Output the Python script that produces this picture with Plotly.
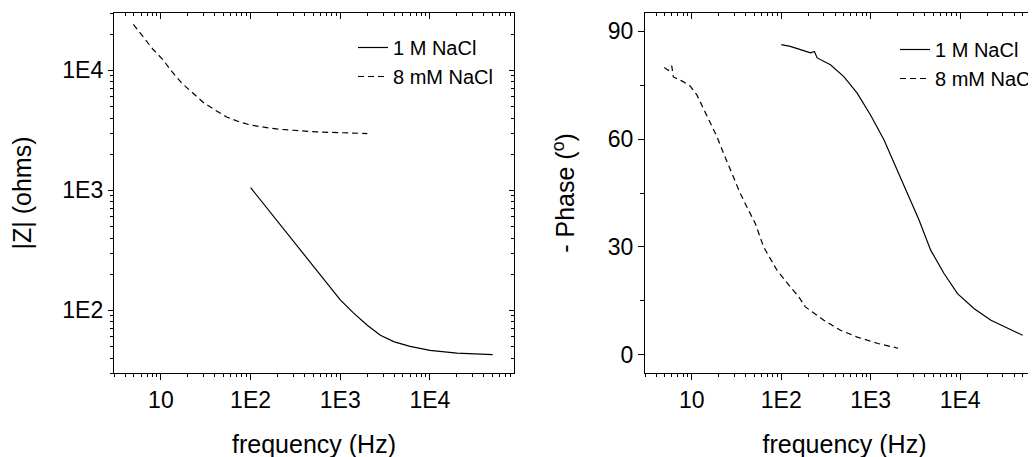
import math
import plotly.graph_objects as go

# ---------------- data ----------------
# |Z| vs frequency
freq_Z_1M = [100, 150, 200, 300, 450, 700, 1000, 1400, 2000, 2800, 4000, 6000, 10000, 20000, 50000]
Z_1M = [1053, 721, 551, 377, 258, 171, 122, 95, 75, 62, 54.5, 50, 46.3, 44.0, 42.7]

freq_Z_8mM = [4.93, 5.13, 6.64, 8.2, 10.5, 13.1, 17.0, 22.6, 30.2, 41.8, 54, 76, 102, 151, 212,
              299, 545, 2000]
Z_8mM = [24150, 23280, 18370, 14880, 12280, 9870, 7830, 6470, 5340, 4580, 4080, 3705, 3480,
         3331, 3221, 3162, 3063, 2969]

# -Phase vs frequency
freq_P_1M = [100, 126, 164, 212, 235, 252, 355, 501, 706, 995, 1405, 1983, 2797, 3468,
             4680, 6600, 9340, 14350, 22080, 33960, 50000]
P_1M = [86.3, 85.8, 84.9, 84.0, 84.4, 82.6, 80.7, 77.4, 72.8, 66.7, 59.8, 51.4, 43.0, 37.5,
        29.1, 22.6, 17.0, 12.8, 9.6, 7.3, 5.4]

freq_P_8mM = [4.93, 5.47, 5.97, 6.22, 7.72, 9.57, 11.4, 13.5, 16.0, 19.1, 22.6, 28.0, 34.8,
              43.1, 51.3, 63.5, 89.7, 126, 157, 186, 299, 459, 706, 1210, 2023]
P_8mM = [79.9, 79.1, 80.4, 77.3, 76.2, 74.8, 72.3, 68.6, 64.9, 60.7, 56.1, 50.5, 44.9,
         40.2, 36.5, 30.0, 23.5, 18.9, 16.1, 13.3, 9.6, 6.8, 4.9, 3.1, 1.8]

series_names = ["1 M NaCl", "8 mM NaCl"]

# tick labels
x_major = [10, 100, 1000, 10000]
x_major_text = ["10", "1E2", "1E3", "1E4"]
x_minor = [d * m for d in [1, 10, 100, 1000, 10000] for m in range(2, 10)]
yZ_major = [100, 1000, 10000]
yZ_major_text = ["1E2", "1E3", "1E4"]
yZ_minor = [d * m for d in [10, 100, 1000, 10000] for m in range(2, 10)]
yP_major = [0, 30, 60, 90]
yP_minor = [15, 45, 75]

# ---------------- styling ----------------
FONT = "Arial, 'Liberation Sans', sans-serif"
TICK_SIZE = 23
TITLE_SIZE = 25
LEG_SIZE = 20
W, H = 1036, 457
OFF = 8  # page body margin offset of the plot div


def px_x(p):
    return (p - OFF) / W


def px_y(p):
    return 1 - (p - OFF) / H


left_dom = [px_x(114), px_x(514)]
right_dom = [px_x(645), 1.0]
y_dom = [px_y(373), px_y(13)]

x_range = [math.log10(3), 4.937]
yZ_range = [math.log10(30), math.log10(30000)]

fig = go.Figure()

solid = dict(color="black", width=1.2)
dashed = dict(color="black", width=1.2, dash="6px,4px")

fig.add_trace(go.Scatter(x=freq_Z_1M, y=Z_1M, mode="lines", name=series_names[0],
                         line=solid, xaxis="x", yaxis="y", legend="legend"))
fig.add_trace(go.Scatter(x=freq_Z_8mM, y=Z_8mM, mode="lines", name=series_names[1],
                         line=dashed, xaxis="x", yaxis="y", legend="legend"))
fig.add_trace(go.Scatter(x=freq_P_1M, y=P_1M, mode="lines", name=series_names[0],
                         line=solid, xaxis="x2", yaxis="y2", legend="legend2"))
fig.add_trace(go.Scatter(x=freq_P_8mM, y=P_8mM, mode="lines", name=series_names[1],
                         line=dashed, xaxis="x2", yaxis="y2", legend="legend2"))

# invisible copies so that the mirror (top / right) axes get drawn
fig.add_trace(go.Scatter(x=freq_Z_1M, y=Z_1M, mode="lines", opacity=0, showlegend=False,
                         hoverinfo="skip", xaxis="x3", yaxis="y3"))
fig.add_trace(go.Scatter(x=freq_P_1M, y=P_1M, mode="lines", opacity=0, showlegend=False,
                         hoverinfo="skip", xaxis="x4", yaxis="y2"))

common = dict(showgrid=False, zeroline=False, showline=True, linecolor="black", linewidth=1.3,
              tickcolor="black", tickwidth=1.2,
              tickfont=dict(family=FONT, size=TICK_SIZE, color="black"))


def minor(vals, side, ln):
    return dict(tickvals=vals, ticks=side, ticklen=ln, tickcolor="black", tickwidth=1)


xbottom = dict(common, type="log", range=x_range, tickmode="array", tickvals=x_major,
               ticktext=x_major_text, ticks="outside", ticklen=6,
               minor=minor(x_minor, "outside", 3),
               title=dict(text="frequency (Hz)", font=dict(family=FONT, size=TITLE_SIZE, color="black"),
                          standoff=23))
xtop = dict(common, type="log", range=x_range, tickmode="array", tickvals=x_major,
            ticks="inside", ticklen=6, showticklabels=False, side="top",
            minor=minor(x_minor, "inside", 3))

layout = dict(
    width=W, height=H, margin=dict(l=0, r=0, t=0, b=0),
    paper_bgcolor="white", plot_bgcolor="rgba(0,0,0,0)",
    showlegend=True,
    xaxis=dict(xbottom, domain=left_dom, anchor="y"),
    xaxis3=dict(xtop, overlaying="x", anchor="y"),
    xaxis2=dict(xbottom, domain=right_dom, anchor="y2"),
    xaxis4=dict(xtop, overlaying="x2", anchor="y2"),
    yaxis=dict(common, type="log", domain=y_dom, anchor="x", range=yZ_range,
               tickmode="array", tickvals=yZ_major, ticktext=yZ_major_text,
               ticks="outside", ticklen=5, minor=minor(yZ_minor, "outside", 3),
               title=dict(text="|Z| (ohms)", font=dict(family=FONT, size=TITLE_SIZE, color="black"),
                          standoff=27)),
    yaxis3=dict(common, type="log", anchor="x", overlaying="y", side="right", range=yZ_range,
                tickmode="array", tickvals=yZ_major, ticks="inside", ticklen=5,
                showticklabels=False, minor=minor(yZ_minor, "inside", 3)),
    yaxis2=dict(common, domain=y_dom, anchor="x2", range=[-5.1, 95.1],
                tickmode="array", tickvals=yP_major, ticks="outside", ticklen=6,
                minor=minor(yP_minor, "outside", 4),
                title=dict(text="- Phase (<sup>o</sup>)",
                           font=dict(family=FONT, size=TITLE_SIZE, color="black"), standoff=25)),
    legend=dict(x=px_x(353), y=px_y(28), xanchor="left", yanchor="top",
                font=dict(family=FONT, size=LEG_SIZE, color="black"),
                bgcolor="rgba(0,0,0,0)"),
    legend2=dict(x=px_x(895), y=px_y(30), xanchor="left", yanchor="top",
                 font=dict(family=FONT, size=LEG_SIZE, color="black"),
                 bgcolor="rgba(0,0,0,0)"),
)

fig.update_layout(**layout)
fig.write_html("out.html")
